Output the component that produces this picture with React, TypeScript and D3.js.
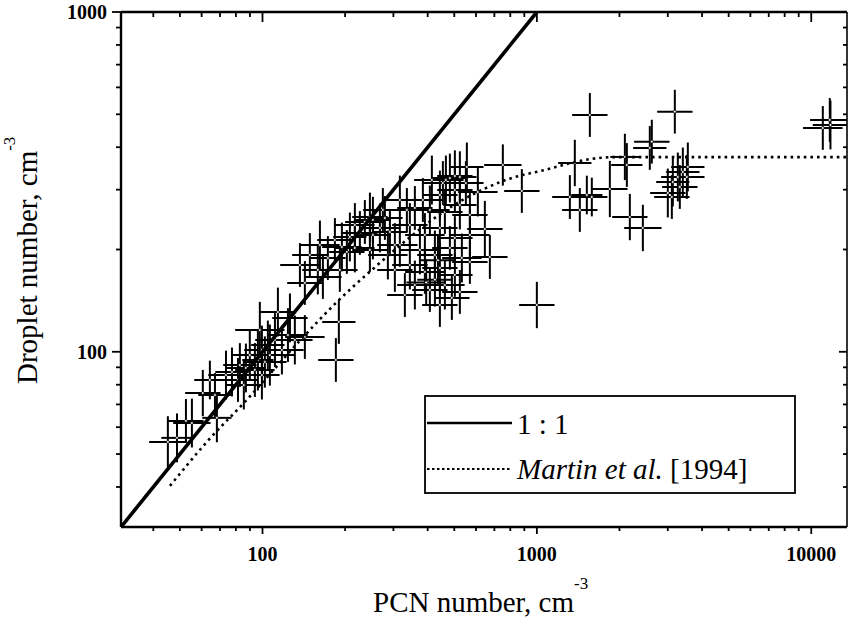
import React from "react";
import * as d3 from "d3";

const pcn = [
  45.2, 48.8, 52.6, 55.3, 60.6, 67.1, 68.2, 64.3, 73.6, 77.4, 81.4, 82.7, 87.0, 89.9, 93.8, 96.2, 99.5, 102, 104.6, 106.4,
  111, 113.8, 117.7, 123.8, 131.2, 97.8, 125.9, 142.7, 166, 189.8, 185.1, 85.5, 99.5, 142.7,
  203, 194.7, 208.2, 226.4, 252.6, 246.3, 274.6, 291.3, 316.7, 335.9, 384.2, 414.3, 454.4, 481.9, 524, 555.7,
  161.9, 148.8, 136.9, 159.1, 173.1, 183.6, 217.1, 236.1, 267.8, 303.7, 286.4, 344.4, 390.7, 443.1, 502.5, 570,
  359.2, 407.4, 462.1, 524, 570, 443.1, 502.5, 609.4, 551.1, 466, 502.5,
  316.7, 374.7, 424.9, 481.9, 532.9, 246.3, 191.4, 344.4, 390.7, 443.1, 502.5, 303.7, 570,
  359.2, 407.4, 462.1, 524, 330.3, 443.1, 490,
  279.3, 252.6, 217.1, 646.3, 674, 425, 436, 395,
  751.6, 881.5, 999.8, 1560, 1375, 1319, 1434, 1521, 1586, 1845, 2093, 2128, 2624, 2580, 2182, 2434, 3183, 3001, 3130,
  3264, 3404, 3550, 3521, 3319, 3104, 11020, 11750, 11685,
];

const droplet = [
  54.3, 55.8, 62.6, 61.7, 75.6, 74.6, 63.9, 82.6, 85.4, 87.2, 82.6, 91.4, 89.6, 97.8, 88.4, 94.6, 101.2, 93.3, 104.7, 97.8,
  108.3, 130.9, 101.2, 112, 108.3, 115.9, 125.8, 110.5, 166, 122.4, 94.6, 79.8, 85.4, 159.4,
  196.7, 203.4, 217.7, 223.7, 244.3, 249.2, 261.4, 225.2, 279.7, 261.4, 279.7, 320.3, 313.8, 324.6, 326.9, 349.9,
  206.2, 192.7, 180, 174.1, 188.8, 213.3, 202.1, 241, 231.4, 206.2, 192.7, 236.1, 220.7, 231.4, 216.2, 220.7,
  265, 261.4, 257.9, 270.4, 252.7, 289.3, 299.3, 295.3, 313.8, 320.3, 329.1,
  206.2, 199.4, 192.7, 202.1, 188.8, 199.4, 174.1, 180, 171.8, 176.5, 168.3, 174.1, 183.8,
  157.2, 152, 157.2, 150, 146.9, 137.3, 144,
  247.6, 220.7, 236.1, 229.8, 190.1, 163, 186, 160,
  354.6, 297.3, 137.3, 497.6, 359.5, 285.4, 261.4, 289.3, 285.4, 301.4, 374.5, 354.6, 415.3, 398, 249.2, 231.4, 508.8, 293.3, 316,
  326.9, 338.2, 349.9, 326.9, 305.5, 285.4, 455.7, 465, 481.1,
];

// relative uncertainties, percent
const pcnErr = [
  17, 14, 16, 17, 16, 15, 13, 14, 16, 15, 18, 15, 18, 16, 18, 14, 16, 20, 15, 23, 18, 16, 20, 18, 16, 23, 16, 18, 17, 15, 16, 16, 16, 16,
  16, 18, 15, 16, 16, 16, 18, 16, 16, 16, 18, 16, 18, 16, 15, 15,
  18, 16, 18, 14, 16, 16, 18, 18, 18, 16, 18, 16, 18, 16, 16, 18,
  16, 18, 16, 15, 16, 16, 16, 18, 16, 16, 16,
  16, 18, 16, 16, 18, 16, 16, 16, 18, 16, 16, 16, 16,
  16, 16, 18, 16, 16, 16, 16,
  16, 16, 18, 16, 16, 16, 16, 18,
  17, 16, 16, 16, 15, 16, 16, 14, 14, 16, 13, 14, 16, 15, 16, 17, 16, 16, 15, 15, 15, 15, 16, 16, 16, 18, 16, 18,
];

const dropletErr = [
  19, 18, 16, 18, 17, 16, 18, 14, 18, 18, 16, 16, 18, 18, 20, 23, 18, 19, 18, 23, 20, 18, 18, 20, 18, 21, 18, 16, 16, 16, 16, 18, 18, 16,
  16, 18, 18, 16, 17, 18, 16, 16, 18, 16, 16, 18, 16, 18, 19, 18,
  18, 16, 16, 18, 16, 16, 18, 16, 18, 16, 18, 16, 16, 18, 16, 19,
  16, 18, 16, 18, 16, 18, 16, 18, 16, 18, 19,
  16, 18, 18, 16, 18, 16, 16, 18, 16, 18, 16, 16, 16,
  18, 16, 18, 16, 16, 16, 16,
  16, 18, 16, 21, 16, 20, 18, 17,
  15, 16, 17, 16, 17, 16, 16, 14, 14, 21, 17, 16, 16, 16, 17, 17, 16, 18, 18, 18, 18, 18, 16, 16, 16, 16, 18, 16,
];

// Martin et al. [1994] parameterisation
const martinPcn = [46, 62.7, 87.5, 136.8, 187, 246, 537, 776, 1069, 1560, 1892, 13600];
const martinDroplet = [40.3, 54.3, 72.1, 107.8, 140.3, 172, 280, 321, 343, 369, 374, 374];

const oneToOne = [30.5, 1000];

const xMajor = [100, 1000, 10000];
const yMajor = [100, 1000];
const xTickLabels = ["100", "1000", "10000"];
const yTickLabels = ["100", "1000"];

const W = 849;
const H = 623;
const L = 121;
const R = 847;
const T = 12;
const B = 527;

const FONT = "Liberation Serif, Times New Roman, Times, DejaVu Serif, serif";
const ts = { fontFamily: FONT } as React.CSSProperties;

export default function App() {
  const x = d3.scaleLog().domain([30.5, 13500]).range([L, R]);
  const y = d3.scaleLog().domain([30.5, 1000]).range([B, T]);

  const xTicks = x.ticks().filter((v) => v >= 30.5 && v <= 13500);
  const yTicks = y.ticks().filter((v) => v >= 30.5 && v <= 1000);
  const isMajor = (v: number) => Math.abs(Math.log10(v) - Math.round(Math.log10(v))) < 1e-9;

  const martinLine = d3
    .line<number>()
    .x((_, i) => x(martinPcn[i]))
    .y((_, i) => y(martinDroplet[i]))
    .curve(d3.curveMonotoneX)(martinPcn);

  const idLine = d3
    .line<number>()
    .x((d) => x(d))
    .y((d) => y(d))(oneToOne);

  return (
    <svg
      width={W}
      height={H}
      style={{ position: "absolute", left: 0, top: 0, background: "#fff", fontFamily: FONT }}
    >
      <defs>
        <clipPath id="plot">
          <rect x={L} y={T} width={R - L} height={B - T} />
        </clipPath>
      </defs>
      <rect x={0} y={0} width={W} height={H} fill="#fff" />

      {/* data crosses */}
      <g clipPath="url(#plot)" stroke="#000" strokeWidth={2}>
        {pcn.map((px, i) => {
          const py = droplet[i];
          const fx = 1 + pcnErr[i] / 100;
          const fy = 1 + dropletErr[i] / 100;
          return (
            <g key={i}>
              <line x1={x(px / fx)} x2={x(px * fx)} y1={y(py)} y2={y(py)} />
              <line x1={x(px)} x2={x(px)} y1={y(py / fy)} y2={y(py * fy)} />
            </g>
          );
        })}
        {pcn.map((px, i) => (
          <circle key={"c" + i} cx={x(px)} cy={y(droplet[i])} r={1.4} fill="#fff" strokeWidth={0.7} />
        ))}
      </g>

      {/* reference lines */}
      <g clipPath="url(#plot)" fill="none">
        <path d={idLine || ""} stroke="#000" strokeWidth={3.6} />
        <path d={martinLine || ""} stroke="#000" strokeWidth={2.6} strokeDasharray="2.6 4" />
      </g>

      {/* frame */}
      <g stroke="#000" fill="none">
        <line x1={L} x2={R} y1={B} y2={B} strokeWidth={2.4} />
        <line x1={L} x2={R} y1={T} y2={T} strokeWidth={2.4} />
        <line x1={L} x2={L} y1={T} y2={B} strokeWidth={2.4} />
        <line x1={R} x2={R} y1={T} y2={B} strokeWidth={1.6} />
      </g>

      {/* ticks */}
      <g stroke="#000" strokeWidth={1.8}>
        {xTicks.map((v) => {
          const m = isMajor(v);
          return (
            <g key={"xt" + v}>
              <line x1={x(v)} x2={x(v)} y1={B} y2={B + (m ? 7 : 4)} />
              <line x1={x(v)} x2={x(v)} y1={T} y2={T + (m ? 10 : 5)} />
            </g>
          );
        })}
        {yTicks.map((v) => {
          const m = isMajor(v);
          return (
            <g key={"yt" + v}>
              <line x1={L} x2={L - (m ? 9 : 5)} y1={y(v)} y2={y(v)} />
              <line x1={R} x2={R - (m ? 8 : 4)} y1={y(v)} y2={y(v)} />
            </g>
          );
        })}
      </g>

      {/* tick labels */}
      <g fontSize={20} fill="#000" fontWeight="bold">
        {xMajor.map((v, i) => (
          <text key={"xl" + v} style={ts} x={x(v)} y={561} textAnchor="middle">
            {xTickLabels[i]}
          </text>
        ))}
        {yMajor.map((v, i) => (
          <text key={"yl" + v} style={ts} x={107} y={y(v)} dy="0.35em" textAnchor="end">
            {yTickLabels[i]}
          </text>
        ))}
      </g>

      {/* axis titles */}
      <text style={ts} x={373} y={612} fontSize={29} fill="#000">
        PCN number, cm
        <tspan fontSize={17} dy={-23}>
          -3
        </tspan>
      </text>
      <text style={ts} transform="rotate(-90)" x={-384} y={37} fontSize={29} fill="#000">
        Droplet number, cm
        <tspan fontSize={17} dy={-22}>
          -3
        </tspan>
      </text>

      {/* legend */}
      <g>
        <rect x={425} y={396} width={370} height={97} fill="#fff" stroke="#000" strokeWidth={1.8} />
        <line x1={427} x2={512} y1={423} y2={423} stroke="#000" strokeWidth={2.6} />
        <text style={ts} x={517} y={434} fontSize={29} fill="#000">
          1 : 1
        </text>
        <line x1={427} x2={512} y1={469} y2={469} stroke="#000" strokeWidth={2} strokeDasharray="2.5 2.5" />
        <text style={ts} x={517} y={479} fontSize={29} fill="#000">
          <tspan fontStyle="italic">Martin et al.</tspan> [1994]
        </text>
      </g>
    </svg>
  );
}
